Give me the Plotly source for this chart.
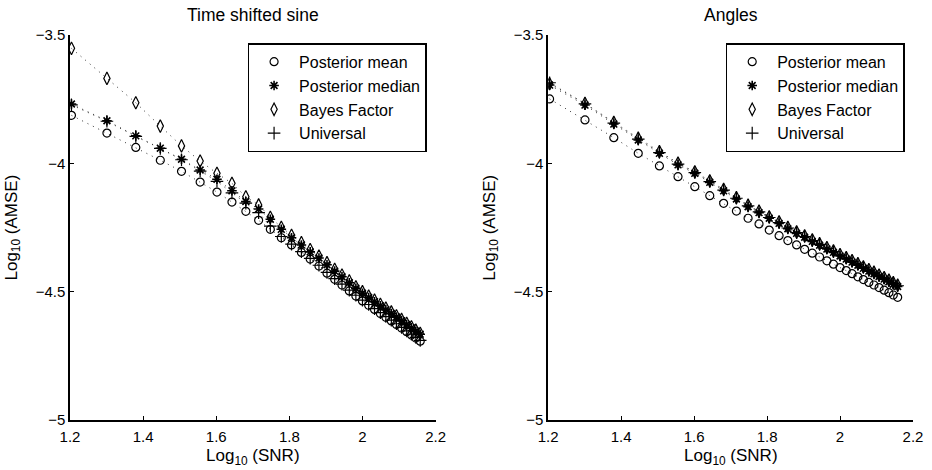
import plotly.graph_objects as go

# log10(SNR) positions of the points
x_log_snr = [1.204, 1.301, 1.380, 1.447, 1.505, 1.556, 1.602, 1.643, 1.681, 1.716, 1.748,
             1.778, 1.806, 1.833, 1.857, 1.881, 1.903, 1.924, 1.944, 1.964, 1.982, 2.000,
             2.017, 2.033, 2.049, 2.064, 2.079, 2.093, 2.107, 2.121, 2.134, 2.146, 2.158]

# ---- Time shifted sine ----
sine_mean = [-3.813, -3.882, -3.938, -3.988, -4.031, -4.073, -4.112, -4.151, -4.187, -4.222, -4.257,
             -4.290, -4.318, -4.347, -4.373, -4.400, -4.428, -4.452, -4.474, -4.497, -4.517, -4.536,
             -4.553, -4.569, -4.585, -4.600, -4.614, -4.628, -4.642, -4.656, -4.669, -4.681, -4.693]
sine_median = [-3.769, -3.834, -3.893, -3.941, -3.984, -4.026, -4.062, -4.107, -4.149, -4.178, -4.218,
               -4.257, -4.290, -4.318, -4.345, -4.369, -4.395, -4.420, -4.442, -4.465, -4.487, -4.506,
               -4.523, -4.539, -4.555, -4.570, -4.585, -4.599, -4.613, -4.628, -4.641, -4.654, -4.666]
sine_bayes = [-3.552, -3.669, -3.764, -3.855, -3.932, -3.991, -4.039, -4.078, -4.130, -4.162, -4.210,
              -4.249, -4.280, -4.309, -4.336, -4.361, -4.387, -4.413, -4.435, -4.458, -4.481, -4.500,
              -4.517, -4.533, -4.549, -4.564, -4.579, -4.594, -4.608, -4.623, -4.637, -4.650, -4.662]
sine_universal = [-3.772, -3.836, -3.895, -3.942, -3.986, -4.030, -4.070, -4.115, -4.155, -4.192, -4.245,
                  -4.285, -4.315, -4.344, -4.370, -4.397, -4.425, -4.449, -4.471, -4.494, -4.514, -4.533,
                  -4.550, -4.566, -4.582, -4.597, -4.611, -4.625, -4.639, -4.653, -4.666, -4.678, -4.690]

# ---- Angles ----
ang_mean = [-3.749, -3.831, -3.900, -3.961, -4.010, -4.052, -4.091, -4.126, -4.156, -4.186, -4.214,
            -4.236, -4.260, -4.282, -4.301, -4.318, -4.335, -4.350, -4.365, -4.380, -4.393, -4.406,
            -4.418, -4.430, -4.442, -4.453, -4.464, -4.474, -4.484, -4.494, -4.504, -4.513, -4.522]
ang_median = [-3.695, -3.773, -3.847, -3.909, -3.961, -4.006, -4.039, -4.074, -4.107, -4.139, -4.169,
              -4.192, -4.214, -4.234, -4.255, -4.273, -4.288, -4.304, -4.319, -4.334, -4.347, -4.361,
              -4.373, -4.385, -4.397, -4.409, -4.420, -4.430, -4.441, -4.451, -4.461, -4.471, -4.480]
ang_bayes = [-3.690, -3.766, -3.840, -3.902, -3.954, -3.999, -4.033, -4.068, -4.101, -4.133, -4.163,
             -4.186, -4.208, -4.228, -4.249, -4.267, -4.282, -4.298, -4.313, -4.328, -4.341, -4.355,
             -4.367, -4.379, -4.391, -4.403, -4.414, -4.424, -4.435, -4.445, -4.455, -4.465, -4.474]
ang_universal = [-3.686, -3.768, -3.843, -3.906, -3.958, -4.003, -4.036, -4.071, -4.104, -4.136, -4.166,
                 -4.189, -4.211, -4.231, -4.252, -4.270, -4.285, -4.301, -4.316, -4.331, -4.344, -4.358,
                 -4.370, -4.382, -4.394, -4.406, -4.417, -4.427, -4.438, -4.448, -4.458, -4.468, -4.477]

series_names = ["Posterior mean", "Posterior median", "Bayes Factor", "Universal"]
panel_titles = ["Time shifted sine", "Angles"]
x_tickvals = [1.2, 1.4, 1.6, 1.8, 2.0, 2.2]
x_ticktext = ["1.2", "1.4", "1.6", "1.8", "2", "2.2"]
y_tickvals = [-5, -4.5, -4, -3.5]
y_ticktext = ["\u22125", "\u22124.5", "\u22124", "\u22123.5"]

FONT = "Liberation Sans, Arial, Helvetica, sans-serif"
symbols = ["circle-open", "asterisk-open", "diamond-tall-open", "cross-thin-open"]
sizes = [8, 8, 9, 9]
lwidths = [1.2, 1.6, 1.2, 1.2]

fig = go.Figure()

panels = [
    ("x", "y", "legend", [sine_mean, sine_median, sine_bayes, sine_universal]),
    ("x2", "y2", "legend2", [ang_mean, ang_median, ang_bayes, ang_universal]),
]

for xa, ya, leg, data in panels:
    # dotted connecting lines
    for ys in data:
        fig.add_trace(go.Scatter(x=x_log_snr, y=ys, xaxis=xa, yaxis=ya, mode="lines",
                                 line=dict(color="#333333", width=1, dash="1px,5px"),
                                 showlegend=False, hoverinfo="skip"))
    for name, ys, sym, sz, lw in zip(series_names, data, symbols, sizes, lwidths):
        fig.add_trace(go.Scatter(x=x_log_snr, y=ys, xaxis=xa, yaxis=ya, mode="markers", name=name,
                                 legend=leg,
                                 marker=dict(symbol=sym, size=sz, color="black",
                                             line=dict(color="black", width=lw))))

W, H = 932, 470
L, T = 70, 35
R = W - 913.3
B = H - 420
pw = W - L - R
ph = H - T - B
d1 = [0, (435.7 - L) / pw]
d2 = [(548.3 - L) / pw, 1]

axis_common = dict(range=[1.2, 2.2], showline=True, linecolor="black", linewidth=1.5,
                   ticks="inside", ticklen=4, tickwidth=1, tickcolor="black",
                   showgrid=False, zeroline=False, mirror=False,
                   tickfont=dict(family=FONT, size=15, color="black"),
                   tickvals=x_tickvals, ticktext=x_ticktext, ticklabelstandoff=2)
yaxis_common = dict(range=[-5, -3.5], showline=True, linecolor="black", linewidth=1.5,
                    ticks="inside", ticklen=4, tickwidth=1, tickcolor="black",
                    showgrid=False, zeroline=False, mirror=False,
                    tickfont=dict(family=FONT, size=15, color="black"),
                    tickvals=y_tickvals, ticktext=y_ticktext, ticklabelstandoff=0)

legend_common = dict(xanchor="right", y=1 - (43.3 - T) / ph, yanchor="top",
                     bordercolor="black", borderwidth=1.5, bgcolor="white",
                     font=dict(family=FONT, size=16, color="black"), tracegroupgap=0,
                     itemwidth=40, itemclick=False)

fig.update_layout(
    width=W, height=H,
    margin=dict(l=L, r=R, t=T, b=B, autoexpand=False),
    paper_bgcolor="white", plot_bgcolor="white",
    font=dict(family=FONT, color="black"),
    xaxis=dict(domain=d1, anchor="y", **axis_common),
    yaxis=dict(domain=[0, 1], anchor="x", **yaxis_common),
    xaxis2=dict(domain=d2, anchor="y2", **axis_common),
    yaxis2=dict(domain=[0, 1], anchor="x2", **yaxis_common),
    legend=dict(x=(426.7 - L) / pw, **legend_common),
    legend2=dict(x=(905 - L) / pw, **legend_common),
    showlegend=True,
)

annotations = []
for i, (xa, ya) in enumerate([("x", "y"), ("x2", "y2")]):
    annotations.append(dict(text=panel_titles[i], xref=f"{xa} domain", yref=f"{ya} domain",
                            x=0.5, y=1, yshift=20, xanchor="center", yanchor="middle",
                            showarrow=False, font=dict(family=FONT, size=17.5, color="black")))
    annotations.append(dict(text="Log<sub>10</sub> (SNR)", xref=f"{xa} domain", yref=f"{ya} domain",
                            x=0.5, y=0, yshift=-37, xanchor="center", yanchor="middle",
                            showarrow=False, font=dict(family=FONT, size=17, color="black")))
    annotations.append(dict(text="Log<sub>10</sub> (AMSE)", xref=f"{xa} domain", yref=f"{ya} domain",
                            x=0, y=0.5, xshift=-58, xanchor="center", yanchor="middle",
                            textangle=-90,
                            showarrow=False, font=dict(family=FONT, size=17, color="black")))
fig.update_layout(annotations=annotations)

fig.write_html("out.html", config={"displayModeBar": False},
               post_script="document.body.style.margin='0px';document.body.style.overflow='hidden';")
